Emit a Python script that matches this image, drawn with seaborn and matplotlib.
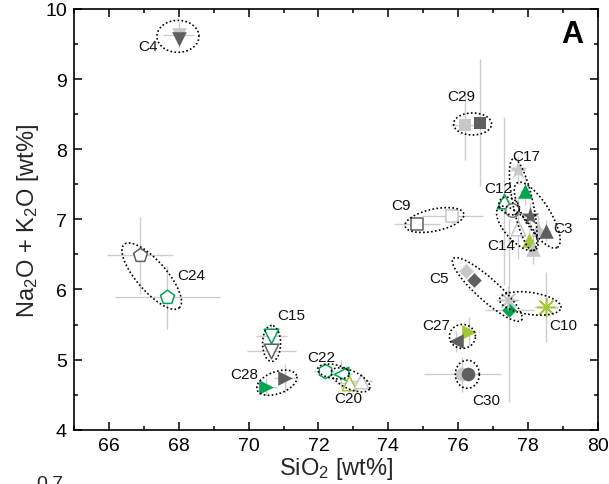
import numpy as np
import pandas as pd
import matplotlib
matplotlib.use("Agg")
import matplotlib.pyplot as plt
from matplotlib.ticker import MultipleLocator
import seaborn as sns

# ---- glass analyses: SiO2 vs total alkali (wt%) with 1-sigma spreads ----
sample = ["C4", "C4", "C29", "C29", "C9", "C9", "C24", "C24", "C15", "C15",
          "C28", "C28", "C22", "C22", "C20", "C20", "C27", "C27", "C30", "C30",
          "C5", "C5", "C5", "C10", "C10", "C17", "C17", "C12", "C12", "C3",
          "C14", "C3", "C3", "C14", "C14"]
sio2 = [68.00, 68.00, 76.20, 76.61, 74.83, 75.83, 66.89, 67.67, 70.65, 70.65,
        70.51, 71.03, 72.18, 72.65, 72.87, 73.23, 76.30, 75.94, 76.11, 76.27,
        76.23, 76.46, 77.46, 77.41, 78.51, 77.70, 77.91, 77.32, 77.53, 78.05,
        77.70, 78.27, 78.51, 78.03, 78.13]
alkali = [9.63, 9.57, 8.34, 8.38, 6.93, 7.05, 6.49, 5.89, 5.33, 5.12,
          4.61, 4.73, 4.83, 4.79, 4.67, 4.69, 5.40, 5.26, 4.79, 4.79,
          6.26, 6.13, 5.70, 5.85, 5.75, 7.71, 7.40, 7.26, 7.14, 7.05,
          6.88, 6.86, 6.84, 6.70, 6.57]
sio2_err = [0.45, 0.10, 0.40, 0.15, 0.66, 0.87, 0.94, 1.50, 0.45, 0.70,
            0.30, 0.30, 0.30, 0.30, 0.35, 0.30, 0.15, 0.20, 1.10, 0.10,
            0.20, 0.10, 0.70, 0.33, 0.35, 0.20, 0.15, 0.15, 0.10, 0.20,
            0.10, 0.15, 0.15, 0.15, 0.15]
alkali_err = [0.18, 0.08, 0.50, 0.90, 0.05, 0.10, 0.55, 0.45, 0.15, 0.10,
              0.12, 0.20, 0.10, 0.20, 0.15, 0.10, 0.20, 0.15, 0.25, 0.10,
              0.10, 0.10, 1.30, 0.20, 0.50, 0.20, 0.20, 1.20, 0.10, 0.20,
              0.45, 0.20, 0.15, 0.15, 0.20]

# ---- symbol styling for each analysis ----
tone = ["light", "dark", "light", "dark", "dark", "light", "dark", "green", "green", "dark",
        "green", "dark", "green", "green", "yg", "light", "yg", "dark", "light", "dark",
        "light", "dark", "green", "light", "yg", "light", "green", "green", "mid", "dark",
        "light", "light", "dark", "yg", "light"]
marker = ["v", "v", "s", "s", "s", "s", "p", "p", "v", "v",
          ">", ">", "h", "<", "^", "^", ">", "<", "o", "o",
          "D", "D", "D", "ast", "ast", "*", "^", "^", "o", "*",
          "^", "^", "^", "^", "^"]
filled = [1, 1, 1, 1, 0, 0, 0, 0, 0, 0,
          1, 1, 0, 0, 0, 0, 1, 1, 1, 1,
          1, 1, 1, 1, 1, 1, 1, 0, 0, 1,
          0, 1, 1, 1, 1]

palette = {"light": "#c6c7c9", "dark": "#5e5f61", "mid": "#7a7a7a",
           "green": "#00a550", "yg": "#a2c83a"}
marker_map = {"v": "v", "^": "^", "<": "<", ">": ">", "s": "s", "p": "p",
              "h": "h", "o": "o", "D": "D", "*": "*", "ast": (8, 2, 0)}
marker_area = {"v": 110, "^": 110, "<": 110, ">": 110, "s": 78, "p": 110,
               "h": 105, "o": 95, "D": 55, "*": 190, "ast": 170}

# ---- grouping ellipses: centre (data), semi-axes (px), tilt (deg) ----
ell_x = [67.98, 76.41, 75.32, 67.23, 70.66, 70.81, 72.43, 72.92, 76.12, 76.26,
         76.83, 78.06, 77.86, 78.26, 77.69, 77.46]
ell_y = [9.61, 8.36, 6.99, 6.19, 5.23, 4.67, 4.83, 4.71, 5.33, 4.79,
         6.00, 5.80, 7.21, 7.06, 6.87, 7.19]
ell_a = [21, 19, 30, 42, 18, 21, 16, 21, 13, 12, 46, 31, 47, 38, 28, 11]
ell_b = [16, 11, 11, 15, 9, 11, 7, 9, 12, 14, 11, 11, 10, 13, 12, 8]
ell_ang = [0, 0, 12, -49, 90, 20, -10, -25, 0, 0, -42, -8, -78, -58, -48, -30]

# ---- sample labels ----
lab_text = ["C4", "C29", "C17", "C12", "C9", "C3", "C14", "C5", "C10", "C27",
            "C30", "C15", "C28", "C22", "C20", "C24"]
lab_x = [67.12, 76.09, 77.95, 77.15, 74.35, 79.01, 77.22, 75.46, 79.01, 75.36,
         76.79, 71.23, 69.89, 72.08, 72.84, 68.37]
lab_y = [9.47, 8.76, 7.90, 7.44, 7.20, 6.87, 6.64, 6.16, 5.50, 5.50,
         4.43, 5.63, 4.79, 5.03, 4.45, 6.20]

df = pd.DataFrame({"sample": sample, "sio2": sio2, "alkali": alkali,
                   "sio2_err": sio2_err, "alkali_err": alkali_err,
                   "tone": tone, "marker": marker, "filled": filled})

sns.set_theme(style="ticks")
plt.rcParams["font.family"] = ["Liberation Sans", "DejaVu Sans"]
plt.rcParams["mathtext.fontset"] = "custom"
plt.rcParams["mathtext.rm"] = "Liberation Sans"
plt.rcParams["mathtext.it"] = "Liberation Sans:italic"

fig = plt.figure(figsize=(6.09, 4.85), dpi=100)
ax = fig.add_axes([0.1212, 0.1120, 0.8608, 0.8674])
ax.set_xlim(65, 80)
ax.set_ylim(4, 10)

# spread bars
ax.errorbar(df["sio2"], df["alkali"], xerr=df["sio2_err"], yerr=df["alkali_err"],
            fmt="none", ecolor="#cdcdcd", elinewidth=1.0, capsize=0, zorder=1)

# symbols
for i, row in df.iterrows():
    col = palette[row["tone"]]
    key = row["marker"]
    sub = df.loc[[i]]
    if key == "ast":
        sns.scatterplot(data=sub, x="sio2", y="alkali", ax=ax, marker=marker_map[key],
                        s=marker_area[key], color=col, linewidth=1.1, zorder=3 + i * 0.01)
    elif row["filled"]:
        sns.scatterplot(data=sub, x="sio2", y="alkali", ax=ax, marker=marker_map[key],
                        s=marker_area[key], color=col, edgecolor=col, linewidth=0,
                        zorder=3 + i * 0.01)
    else:
        sns.scatterplot(data=sub, x="sio2", y="alkali", ax=ax, marker=marker_map[key],
                        s=marker_area[key], color=col, facecolor="white", edgecolor=col,
                        linewidth=1.1, zorder=3 + i * 0.01)

# dotted grouping ellipses, sized in screen pixels
fig.canvas.draw()
bbox = ax.get_window_extent()
px_x = bbox.width / (80 - 65)
px_y = bbox.height / (10 - 4)
t = np.linspace(0, 2 * np.pi, 200)
for cx, cy, a, b, ang in zip(ell_x, ell_y, ell_a, ell_b, ell_ang):
    th = np.deg2rad(ang)
    dx = a * np.cos(t) * np.cos(th) - b * np.sin(t) * np.sin(th)
    dy = a * np.cos(t) * np.sin(th) + b * np.sin(t) * np.cos(th)
    ax.plot(cx + dx / px_x, cy + dy / px_y, color="black",
            linestyle=(0, (1, 1.4)), linewidth=1.2, zorder=6)

for txt, x, y in zip(lab_text, lab_x, lab_y):
    ax.text(x, y, txt, ha="center", va="center", fontsize=11, color="#111111", zorder=7)

ax.text(79.27, 9.64, "A", ha="center", va="center", fontsize=22,
        fontweight="bold", color="black", zorder=7)

ax.set_xlabel("SiO$_2$ [wt%]", fontsize=17, labelpad=1)
ax.set_ylabel("Na$_2$O + K$_2$O [wt%]", fontsize=17, labelpad=3)

ax.xaxis.set_major_locator(MultipleLocator(2))
ax.xaxis.set_minor_locator(MultipleLocator(1))
ax.yaxis.set_major_locator(MultipleLocator(1))
ax.yaxis.set_minor_locator(MultipleLocator(0.5))
ax.tick_params(which="both", direction="in", top=True, right=True,
               width=1.1, colors="black", labelsize=14)
ax.tick_params(which="major", length=5.5, pad=5)
ax.tick_params(which="minor", length=3)
for sp in ax.spines.values():
    sp.set_linewidth(1.2)
    sp.set_color("black")

# top of the next panel's tick label, cut by the figure edge
fig.text(50 / 609, 1 - 476 / 485, "0.7", ha="center", va="top", fontsize=14)

fig.savefig("out.png", dpi=100)
